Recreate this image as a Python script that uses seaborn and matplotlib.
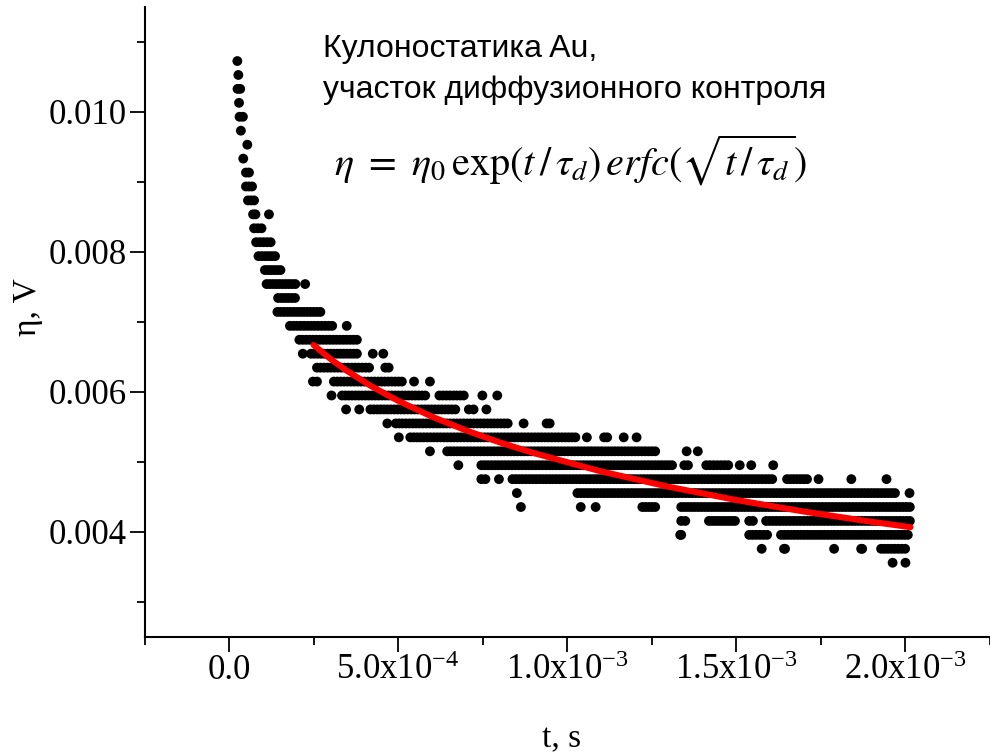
import numpy as np
import pandas as pd
import matplotlib
matplotlib.use("Agg")
import matplotlib.pyplot as plt
import seaborn as sns
from matplotlib.ticker import FixedLocator

# ---------------- data (time in units of 1e-5 s, voltage in V) ----------------
level_values = [0.010728, 0.010529, 0.010330, 0.010131, 0.009932, 0.009733, 0.009533,
                0.009334, 0.009135, 0.008936, 0.008737, 0.008538, 0.008339, 0.008140,
                0.007941, 0.007742, 0.007542, 0.007343, 0.007144, 0.006945, 0.006746,
                0.006547, 0.006348, 0.006149, 0.005950, 0.005751, 0.005551, 0.005352,
                0.005153, 0.004954, 0.004755, 0.004556, 0.004357, 0.004158, 0.003959,
                0.003760, 0.003561]

level_segments = [
    [(2.45, 2.45)],
    [(2.75, 2.75)],
    [(2.5, 3.3)],
    [(2.95, 2.95)],
    [(3.1, 4.1)],
    [(3.5, 3.5)],
    [(5.4, 5.4)],
    [(4.2, 4.2)],
    [(5.0, 5.9)],
    [(5.0, 6.8)],
    [(5.6, 7.4)],
    [(7.1, 7.8), (11.8, 11.8)],
    [(7.4, 9.6)],
    [(8.0, 12.3)],
    [(8.7, 13.6)],
    [(10.6, 15.2)],
    [(11.1, 19.6), (22.5, 22.5)],
    [(14.5, 19.5)],
    [(14.3, 27.0)],
    [(18.0, 30.5), (34.8, 34.8)],
    [(20.8, 37.8)],
    [(21.8, 21.8), (24.2, 37.8), (42.5, 42.5), (45.6, 45.6)],
    [(26.0, 41.4), (46.2, 47.2)],
    [(24.8, 26.0), (31.0, 51.1), (54.7, 54.7), (59.4, 59.4)],
    [(30.3, 30.3), (33.4, 58.0), (62.2, 69.4), (74.9, 74.9), (79.3, 79.3)],
    [(34.6, 34.6), (38.5, 38.5), (41.8, 66.9), (70.9, 72.3), (76.1, 76.1)],
    [(46.8, 46.8), (49.3, 82.4), (87.1, 87.1), (93.9, 94.8)],
    [(50.2, 50.2), (53.6, 102.4), (105.8, 105.8), (110.9, 111.8), (116.7, 116.7), (120.5, 120.5)],
    [(59.4, 59.4), (64.5, 126.0), (135.3, 135.3), (138.6, 138.6)],
    [(67.8, 67.8), (74.6, 131.0), (134.6, 135.7), (141.1, 147.6), (151.0, 151.0), (154.4, 154.4), (160.9, 160.9)],
    [(74.6, 75.8), (79.8, 79.8), (83.8, 160.6), (165.0, 170.9), (174.3, 174.3), (184.0, 184.0), (194.4, 194.4)],
    [(85.1, 85.1), (103.0, 196.9), (201.2, 201.2)],
    [(86.3, 86.3), (104.0, 104.0), (108.4, 108.4), (122.2, 126.0), (133.7, 201.3)],
    [(133.7, 134.9), (141.9, 149.6), (153.8, 154.9), (158.8, 201.3)],
    [(133.4, 133.7), (153.8, 159.1), (163.2, 200.7)],
    [(157.5, 157.5), (164.1, 164.4), (178.9, 178.9), (186.9, 187.2), (192.8, 199.9)],
    [(196.2, 196.2), (200.0, 200.0)],
]

fit_t = [25, 30, 35, 42, 50, 60, 70, 80, 90, 110, 130, 150, 170, 190, 201.5]
fit_eta = [0.006671, 0.006472, 0.006298, 0.006084, 0.005874, 0.005648, 0.005453, 0.005281,
           0.005129, 0.004866, 0.004646, 0.004457, 0.004292, 0.004146, 0.004069]

x_tick_values = [0.0, 5e-4, 1e-3, 1.5e-3, 2e-3]
x_tick_labels = ['0.0', r'5.0x10$^{\mathregular{-4}}$', r'1.0x10$^{\mathregular{-3}}$',
                 r'1.5x10$^{\mathregular{-3}}$', r'2.0x10$^{\mathregular{-3}}$']
y_tick_values = [0.004, 0.006, 0.008, 0.010]
y_tick_labels = ['0.004', '0.006', '0.008', '0.010']

T_UNIT = 1e-5
SAMPLE_STEP = 1.0  # spacing of recorded samples inside a dense run (same time unit)

# ---------------- build scatter table ----------------
ts, vs = [], []
for val, segs in zip(level_values, level_segments):
    for a, b in segs:
        if b - a < 1e-9:
            pts = np.array([a])
        else:
            n = max(2, int(round((b - a) / SAMPLE_STEP)) + 1)
            pts = np.linspace(a, b, n)
        ts.extend(pts * T_UNIT)
        vs.extend([val] * len(pts))
df = pd.DataFrame({"t": ts, "eta": vs})
fit_df = pd.DataFrame({"t": np.array(fit_t) * T_UNIT, "eta": fit_eta})

# ---------------- style ----------------
sns.set_theme(style="white")
plt.rcParams['font.family'] = ['Liberation Serif', 'DejaVu Serif']
plt.rcParams['text.color'] = 'black'
plt.rcParams['axes.labelcolor'] = 'black'
plt.rcParams['mathtext.fontset'] = 'custom'
plt.rcParams['mathtext.rm'] = 'Liberation Serif'
plt.rcParams['mathtext.it'] = 'Liberation Serif:italic'

fig = plt.figure(figsize=(9.9, 7.55), dpi=100)
ax = fig.add_axes([144.5 / 990, 118 / 755, 1 - 144.5 / 990, (637 - 7) / 755])

sns.scatterplot(data=df, x="t", y="eta", ax=ax, color="black", s=50,
                linewidth=0, edgecolor="none", legend=False, zorder=2)
sns.lineplot(data=fit_df, x="t", y="eta", ax=ax, color="#ff0000", linewidth=4.4,
             zorder=3, solid_capstyle="round", estimator=None, sort=False)

ax.set_xlim(-2.5e-4, 2.25e-3)
ax.set_ylim(0.0025, 0.0115)

for s in ["top", "right"]:
    ax.spines[s].set_visible(False)
for s in ["left", "bottom"]:
    ax.spines[s].set_linewidth(1.5)
    ax.spines[s].set_color("black")

ax.xaxis.set_major_locator(FixedLocator(x_tick_values))
ax.set_xticklabels(x_tick_labels)
ax.xaxis.set_minor_locator(FixedLocator([-2.5e-4, 2.5e-4, 7.5e-4, 1.25e-3, 1.75e-3, 2.25e-3]))
ax.yaxis.set_major_locator(FixedLocator(y_tick_values))
ax.set_yticklabels(y_tick_labels)
ax.yaxis.set_minor_locator(FixedLocator([0.003, 0.005, 0.007, 0.009, 0.011]))

ax.tick_params(axis="both", which="both", bottom=True, left=True, top=False, right=False)
ax.tick_params(axis="both", which="major", direction="out", length=11, width=1.3,
               labelsize=25, color="black", labelcolor="black")
ax.tick_params(axis="both", which="minor", direction="out", length=6, width=1.3,
               color="black")
ax.tick_params(axis="x", which="major", pad=1)
ax.tick_params(axis="y", which="major", pad=2)
ax.set_xlabel("")
ax.set_ylabel("")
ax.grid(False)

fig.text(562 / 990, 1 - 739 / 755, "t, s", ha="center", va="center", fontsize=24,
         family=['Liberation Serif'], color="black")
fig.text(28 / 990, 1 - 307 / 755, "η, V", ha="center", va="center", rotation=90,
         fontsize=24, family=['Liberation Serif'], color="black")

fig.text(323 / 990, 1 - 57 / 755, "Кулоностатика Au,", ha="left", va="baseline",
         fontsize=23, family=['Liberation Sans', 'DejaVu Sans'], color="black")
fig.text(323 / 990, 1 - 98 / 755, "участок диффузионного контроля", ha="left",
         va="baseline", fontsize=23, family=['Liberation Sans', 'DejaVu Sans'], color="black")
fig.text(571 / 990, 1 - 160 / 755,
         r'$\eta\ =\ \eta_0\,\mathrm{exp}(t\,/\,\tau_d)\,erfc(\sqrt{t\,/\,\tau_d})$',
         ha="center", va="center", fontsize=29, math_fontfamily='stix', color="black")

fig.savefig("out.png", dpi=100)
